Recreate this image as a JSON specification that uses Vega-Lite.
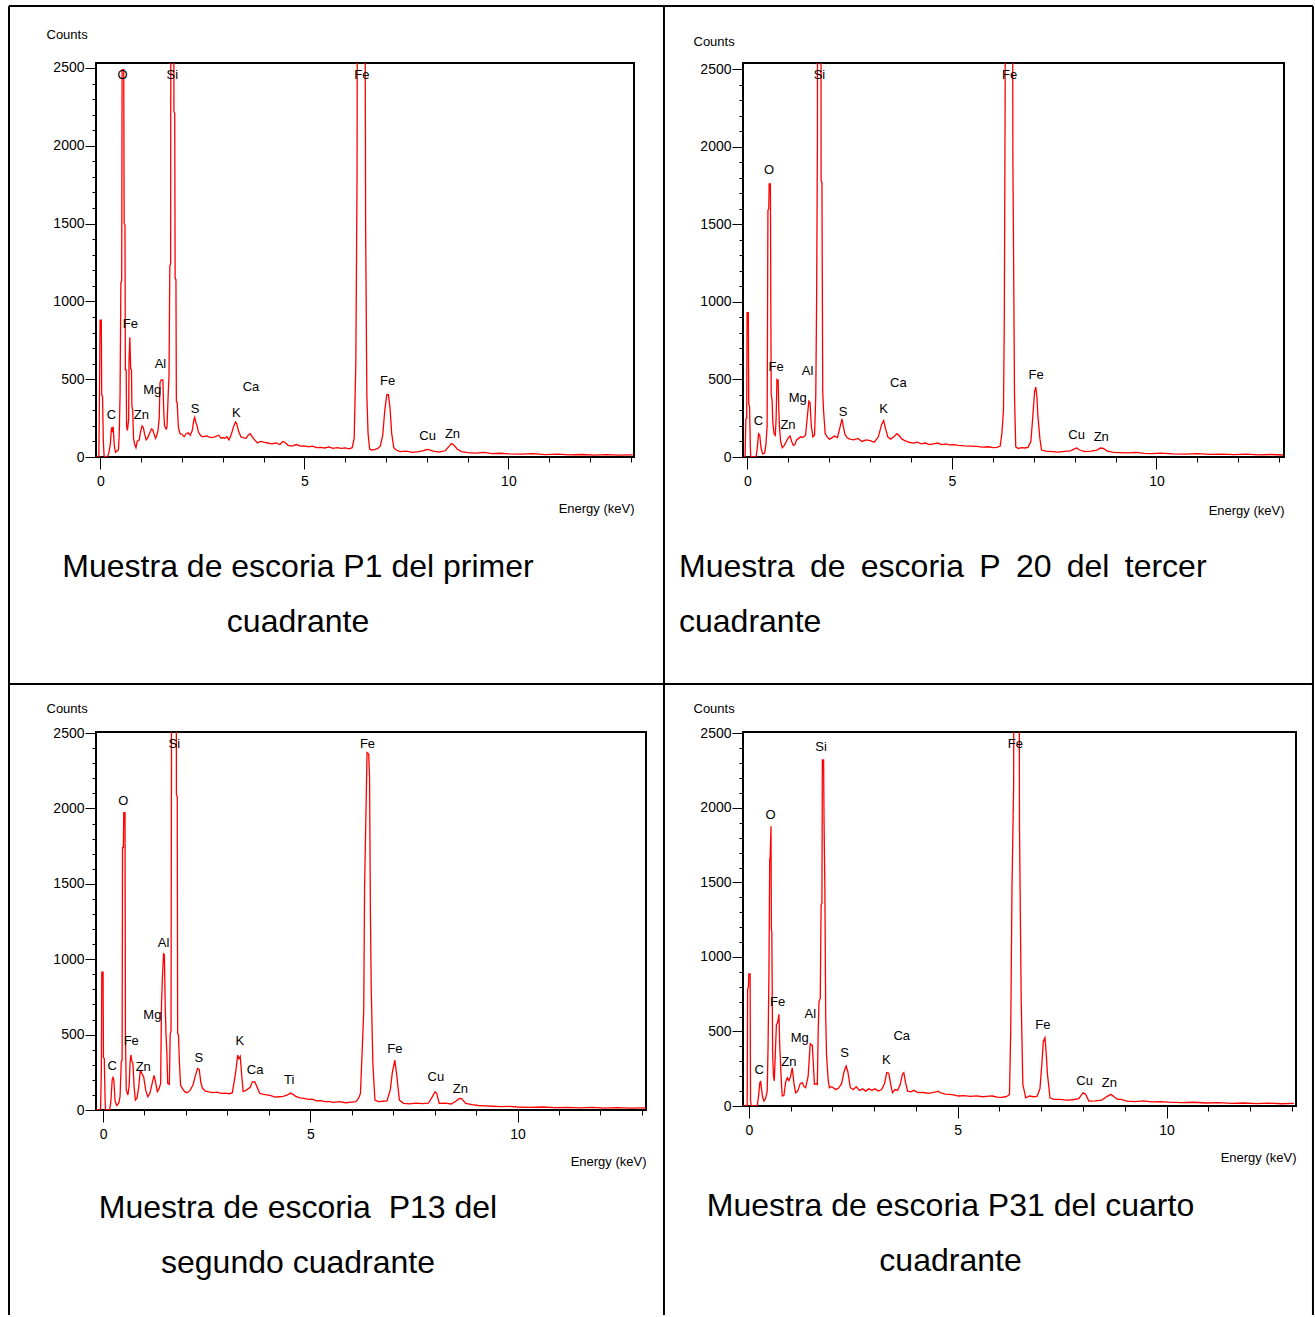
{
"$schema": "https://vega.github.io/schema/vega-lite/v6.json",
"background": "white",
"autosize": {"type": "pad"},
"padding": {"left": 6, "top": 4, "right": 0, "bottom": 0},
"datasets": {
"s1": [
{"e":-0.1,"c":0},{"e":-0.04,"c":0},{"e":-0.03,"c":270},{"e":-0.01,"c":880},{"e":0.02,"c":880},{"e":0.03,"c":400},{"e":0.05,"c":390},{"e":0.07,"c":100},{"e":0.09,"c":0},{"e":0.17,"c":0},{"e":0.2,"c":20},{"e":0.24,"c":80},{"e":0.27,"c":190},{"e":0.29,"c":160},{"e":0.31,"c":195},{"e":0.34,"c":70},{"e":0.37,"c":30},{"e":0.41,"c":40},{"e":0.44,"c":45},{"e":0.46,"c":150},{"e":0.48,"c":400},{"e":0.5,"c":1120},{"e":0.52,"c":1130},{"e":0.53,"c":2490},{"e":0.57,"c":2490},{"e":0.58,"c":1500},{"e":0.6,"c":1490},{"e":0.61,"c":560},{"e":0.63,"c":560},{"e":0.64,"c":200},{"e":0.66,"c":170},{"e":0.69,"c":240},{"e":0.7,"c":620},{"e":0.72,"c":770},{"e":0.74,"c":570},{"e":0.76,"c":560},{"e":0.77,"c":330},{"e":0.79,"c":300},{"e":0.81,"c":120},{"e":0.84,"c":80},{"e":0.87,"c":60},{"e":0.9,"c":100},{"e":0.95,"c":110},{"e":0.98,"c":160},{"e":1.02,"c":200},{"e":1.05,"c":190},{"e":1.08,"c":150},{"e":1.12,"c":110},{"e":1.15,"c":120},{"e":1.2,"c":150},{"e":1.25,"c":180},{"e":1.28,"c":175},{"e":1.31,"c":150},{"e":1.35,"c":120},{"e":1.38,"c":140},{"e":1.41,"c":170},{"e":1.44,"c":250},{"e":1.46,"c":480},{"e":1.49,"c":495},{"e":1.53,"c":495},{"e":1.55,"c":300},{"e":1.57,"c":200},{"e":1.61,"c":180},{"e":1.63,"c":190},{"e":1.66,"c":400},{"e":1.68,"c":520},{"e":1.7,"c":1230},{"e":1.72,"c":1240},{"e":1.73,"c":5000},{"e":1.79,"c":5000},{"e":1.8,"c":2220},{"e":1.82,"c":2210},{"e":1.83,"c":1150},{"e":1.85,"c":1140},{"e":1.86,"c":360},{"e":1.88,"c":350},{"e":1.91,"c":190},{"e":1.95,"c":150},{"e":2.0,"c":145},{"e":2.05,"c":130},{"e":2.1,"c":150},{"e":2.15,"c":155},{"e":2.2,"c":140},{"e":2.25,"c":170},{"e":2.29,"c":240},{"e":2.31,"c":255},{"e":2.34,"c":220},{"e":2.37,"c":200},{"e":2.4,"c":160},{"e":2.45,"c":140},{"e":2.5,"c":130},{"e":2.6,"c":135},{"e":2.7,"c":125},{"e":2.8,"c":130},{"e":2.9,"c":140},{"e":2.95,"c":120},{"e":3.0,"c":125},{"e":3.05,"c":120},{"e":3.1,"c":130},{"e":3.15,"c":110},{"e":3.2,"c":140},{"e":3.27,"c":200},{"e":3.31,"c":225},{"e":3.34,"c":215},{"e":3.38,"c":170},{"e":3.44,"c":130},{"e":3.5,"c":125},{"e":3.57,"c":120},{"e":3.62,"c":140},{"e":3.67,"c":150},{"e":3.72,"c":130},{"e":3.78,"c":110},{"e":3.85,"c":90},{"e":3.92,"c":100},{"e":4.0,"c":95},{"e":4.1,"c":90},{"e":4.2,"c":85},{"e":4.3,"c":90},{"e":4.4,"c":80},{"e":4.47,"c":100},{"e":4.52,"c":95},{"e":4.6,"c":75},{"e":4.7,"c":70},{"e":4.8,"c":80},{"e":4.9,"c":70},{"e":5.0,"c":72},{"e":5.1,"c":65},{"e":5.2,"c":70},{"e":5.3,"c":60},{"e":5.4,"c":62},{"e":5.5,"c":58},{"e":5.6,"c":65},{"e":5.7,"c":55},{"e":5.8,"c":60},{"e":5.9,"c":55},{"e":6.0,"c":58},{"e":6.1,"c":52},{"e":6.17,"c":60},{"e":6.22,"c":120},{"e":6.26,"c":600},{"e":6.29,"c":1800},{"e":6.31,"c":5000},{"e":6.47,"c":5000},{"e":6.5,"c":1500},{"e":6.53,"c":400},{"e":6.56,"c":150},{"e":6.6,"c":50},{"e":6.65,"c":45},{"e":6.72,"c":48},{"e":6.8,"c":55},{"e":6.86,"c":70},{"e":6.92,"c":140},{"e":6.97,"c":300},{"e":7.02,"c":400},{"e":7.06,"c":400},{"e":7.1,"c":310},{"e":7.14,"c":150},{"e":7.19,"c":60},{"e":7.25,"c":45},{"e":7.35,"c":35},{"e":7.5,"c":38},{"e":7.65,"c":30},{"e":7.8,"c":35},{"e":7.9,"c":40},{"e":8.0,"c":48},{"e":8.05,"c":47},{"e":8.15,"c":38},{"e":8.3,"c":32},{"e":8.45,"c":40},{"e":8.55,"c":70},{"e":8.6,"c":86},{"e":8.65,"c":80},{"e":8.75,"c":50},{"e":8.85,"c":35},{"e":9.0,"c":28},{"e":9.2,"c":25},{"e":9.4,"c":30},{"e":9.6,"c":22},{"e":9.8,"c":24},{"e":10.0,"c":20},{"e":10.3,"c":18},{"e":10.6,"c":22},{"e":10.9,"c":15},{"e":11.2,"c":18},{"e":11.5,"c":14},{"e":11.8,"c":16},{"e":12.1,"c":12},{"e":12.4,"c":15},{"e":12.7,"c":12},{"e":13.05,"c":14}
],
"s2": [
{"e":-0.1,"c":0},{"e":-0.06,"c":0},{"e":-0.04,"c":245},{"e":-0.02,"c":250},{"e":-0.01,"c":930},{"e":0.02,"c":930},{"e":0.03,"c":340},{"e":0.05,"c":330},{"e":0.07,"c":60},{"e":0.08,"c":0},{"e":0.21,"c":0},{"e":0.24,"c":60},{"e":0.27,"c":150},{"e":0.3,"c":140},{"e":0.33,"c":60},{"e":0.37,"c":20},{"e":0.42,"c":25},{"e":0.45,"c":80},{"e":0.48,"c":200},{"e":0.5,"c":1590},{"e":0.52,"c":1600},{"e":0.53,"c":1760},{"e":0.56,"c":1760},{"e":0.57,"c":1000},{"e":0.58,"c":400},{"e":0.6,"c":370},{"e":0.62,"c":220},{"e":0.65,"c":150},{"e":0.68,"c":140},{"e":0.7,"c":250},{"e":0.72,"c":500},{"e":0.75,"c":495},{"e":0.76,"c":360},{"e":0.78,"c":200},{"e":0.81,"c":100},{"e":0.85,"c":60},{"e":0.9,"c":75},{"e":0.95,"c":100},{"e":1.0,"c":125},{"e":1.04,"c":135},{"e":1.08,"c":100},{"e":1.12,"c":75},{"e":1.16,"c":80},{"e":1.2,"c":110},{"e":1.25,"c":120},{"e":1.3,"c":130},{"e":1.35,"c":125},{"e":1.42,"c":140},{"e":1.46,"c":250},{"e":1.5,"c":360},{"e":1.53,"c":350},{"e":1.56,"c":200},{"e":1.6,"c":130},{"e":1.64,"c":140},{"e":1.67,"c":400},{"e":1.69,"c":1000},{"e":1.71,"c":2040},{"e":1.72,"c":5000},{"e":1.79,"c":5000},{"e":1.8,"c":1780},{"e":1.82,"c":1770},{"e":1.84,"c":420},{"e":1.86,"c":300},{"e":1.9,"c":150},{"e":1.95,"c":130},{"e":2.0,"c":115},{"e":2.05,"c":120},{"e":2.12,"c":135},{"e":2.2,"c":125},{"e":2.27,"c":200},{"e":2.31,"c":245},{"e":2.34,"c":200},{"e":2.38,"c":150},{"e":2.43,"c":125},{"e":2.5,"c":115},{"e":2.6,"c":110},{"e":2.7,"c":120},{"e":2.8,"c":100},{"e":2.9,"c":110},{"e":3.0,"c":105},{"e":3.1,"c":95},{"e":3.2,"c":130},{"e":3.28,"c":210},{"e":3.33,"c":235},{"e":3.38,"c":180},{"e":3.43,"c":130},{"e":3.5,"c":115},{"e":3.58,"c":130},{"e":3.65,"c":150},{"e":3.7,"c":140},{"e":3.78,"c":115},{"e":3.85,"c":105},{"e":3.95,"c":95},{"e":4.05,"c":90},{"e":4.15,"c":95},{"e":4.25,"c":85},{"e":4.35,"c":90},{"e":4.45,"c":80},{"e":4.55,"c":85},{"e":4.65,"c":90},{"e":4.75,"c":80},{"e":4.85,"c":85},{"e":4.95,"c":78},{"e":5.05,"c":80},{"e":5.15,"c":75},{"e":5.3,"c":72},{"e":5.45,"c":70},{"e":5.6,"c":68},{"e":5.75,"c":64},{"e":5.9,"c":66},{"e":6.0,"c":60},{"e":6.1,"c":62},{"e":6.18,"c":70},{"e":6.22,"c":150},{"e":6.26,"c":300},{"e":6.28,"c":880},{"e":6.3,"c":2280},{"e":6.32,"c":5000},{"e":6.47,"c":5000},{"e":6.49,"c":1910},{"e":6.51,"c":1180},{"e":6.53,"c":390},{"e":6.56,"c":65},{"e":6.62,"c":55},{"e":6.7,"c":60},{"e":6.78,"c":58},{"e":6.86,"c":62},{"e":6.93,"c":100},{"e":6.97,"c":235},{"e":7.02,"c":420},{"e":7.05,"c":450},{"e":7.08,"c":380},{"e":7.1,"c":270},{"e":7.15,"c":120},{"e":7.19,"c":45},{"e":7.3,"c":38},{"e":7.45,"c":35},{"e":7.6,"c":32},{"e":7.75,"c":36},{"e":7.9,"c":40},{"e":8.0,"c":52},{"e":8.05,"c":58},{"e":8.12,"c":45},{"e":8.25,"c":35},{"e":8.4,"c":38},{"e":8.55,"c":45},{"e":8.63,"c":58},{"e":8.7,"c":55},{"e":8.8,"c":38},{"e":8.95,"c":30},{"e":9.1,"c":28},{"e":9.3,"c":26},{"e":9.5,"c":30},{"e":9.7,"c":24},{"e":9.9,"c":22},{"e":10.1,"c":25},{"e":10.4,"c":20},{"e":10.7,"c":18},{"e":11.0,"c":22},{"e":11.3,"c":17},{"e":11.6,"c":19},{"e":11.9,"c":15},{"e":12.2,"c":18},{"e":12.5,"c":14},{"e":12.8,"c":16},{"e":13.1,"c":13}
],
"s3": [
{"e":-0.17,"c":0},{"e":-0.06,"c":0},{"e":-0.04,"c":280},{"e":-0.03,"c":915},{"e":0.0,"c":915},{"e":0.01,"c":350},{"e":0.03,"c":340},{"e":0.05,"c":60},{"e":0.06,"c":0},{"e":0.16,"c":0},{"e":0.19,"c":60},{"e":0.22,"c":200},{"e":0.24,"c":216},{"e":0.26,"c":200},{"e":0.29,"c":60},{"e":0.33,"c":30},{"e":0.38,"c":45},{"e":0.41,"c":88},{"e":0.44,"c":320},{"e":0.46,"c":330},{"e":0.47,"c":1740},{"e":0.49,"c":1740},{"e":0.5,"c":1972},{"e":0.53,"c":1972},{"e":0.54,"c":506},{"e":0.56,"c":133},{"e":0.6,"c":100},{"e":0.63,"c":160},{"e":0.65,"c":300},{"e":0.67,"c":365},{"e":0.7,"c":320},{"e":0.72,"c":310},{"e":0.75,"c":150},{"e":0.78,"c":66},{"e":0.82,"c":80},{"e":0.86,"c":150},{"e":0.9,"c":266},{"e":0.94,"c":240},{"e":0.98,"c":220},{"e":1.03,"c":130},{"e":1.08,"c":88},{"e":1.13,"c":110},{"e":1.18,"c":170},{"e":1.23,"c":230},{"e":1.27,"c":180},{"e":1.31,"c":122},{"e":1.35,"c":140},{"e":1.39,"c":177},{"e":1.41,"c":700},{"e":1.43,"c":860},{"e":1.46,"c":1036},{"e":1.48,"c":1030},{"e":1.5,"c":683},{"e":1.52,"c":500},{"e":1.54,"c":375},{"e":1.56,"c":177},{"e":1.6,"c":170},{"e":1.62,"c":507},{"e":1.64,"c":520},{"e":1.65,"c":2137},{"e":1.66,"c":5000},{"e":1.76,"c":5000},{"e":1.77,"c":2093},{"e":1.79,"c":2080},{"e":1.8,"c":507},{"e":1.82,"c":500},{"e":1.84,"c":330},{"e":1.87,"c":166},{"e":1.92,"c":140},{"e":1.97,"c":122},{"e":2.03,"c":115},{"e":2.1,"c":130},{"e":2.17,"c":166},{"e":2.22,"c":220},{"e":2.28,"c":276},{"e":2.32,"c":270},{"e":2.36,"c":180},{"e":2.4,"c":144},{"e":2.47,"c":125},{"e":2.55,"c":120},{"e":2.65,"c":115},{"e":2.75,"c":118},{"e":2.85,"c":110},{"e":2.95,"c":112},{"e":3.05,"c":108},{"e":3.12,"c":115},{"e":3.2,"c":250},{"e":3.25,"c":364},{"e":3.28,"c":340},{"e":3.31,"c":355},{"e":3.34,"c":250},{"e":3.38,"c":122},{"e":3.45,"c":130},{"e":3.55,"c":150},{"e":3.6,"c":185},{"e":3.66,"c":188},{"e":3.72,"c":150},{"e":3.78,"c":111},{"e":3.85,"c":105},{"e":3.95,"c":100},{"e":4.05,"c":95},{"e":4.15,"c":85},{"e":4.25,"c":88},{"e":4.35,"c":90},{"e":4.45,"c":100},{"e":4.51,"c":111},{"e":4.58,"c":105},{"e":4.65,"c":90},{"e":4.75,"c":80},{"e":4.85,"c":77},{"e":4.95,"c":70},{"e":5.05,"c":72},{"e":5.15,"c":60},{"e":5.25,"c":62},{"e":5.35,"c":55},{"e":5.45,"c":57},{"e":5.55,"c":50},{"e":5.7,"c":55},{"e":5.85,"c":48},{"e":6.0,"c":52},{"e":6.1,"c":55},{"e":6.17,"c":80},{"e":6.21,"c":110},{"e":6.25,"c":374},{"e":6.29,"c":661},{"e":6.31,"c":1476},{"e":6.34,"c":1920},{"e":6.37,"c":2370},{"e":6.41,"c":2360},{"e":6.43,"c":2208},{"e":6.45,"c":1322},{"e":6.47,"c":815},{"e":6.51,"c":308},{"e":6.56,"c":66},{"e":6.65,"c":56},{"e":6.75,"c":58},{"e":6.85,"c":60},{"e":6.93,"c":133},{"e":6.98,"c":250},{"e":7.04,"c":331},{"e":7.09,"c":221},{"e":7.15,"c":66},{"e":7.25,"c":44},{"e":7.4,"c":40},{"e":7.55,"c":46},{"e":7.7,"c":42},{"e":7.85,"c":45},{"e":7.95,"c":90},{"e":8.01,"c":121},{"e":8.05,"c":110},{"e":8.11,"c":44},{"e":8.25,"c":45},{"e":8.4,"c":40},{"e":8.52,"c":60},{"e":8.6,"c":77},{"e":8.65,"c":75},{"e":8.75,"c":44},{"e":8.9,"c":35},{"e":9.05,"c":30},{"e":9.2,"c":28},{"e":9.4,"c":25},{"e":9.6,"c":22},{"e":9.8,"c":24},{"e":10.0,"c":20},{"e":10.3,"c":18},{"e":10.6,"c":20},{"e":10.9,"c":16},{"e":11.2,"c":18},{"e":11.5,"c":14},{"e":11.8,"c":17},{"e":12.1,"c":13},{"e":12.4,"c":16},{"e":12.7,"c":12},{"e":13.1,"c":14}
],
"s4": [
{"e":-0.14,"c":0},{"e":-0.04,"c":0},{"e":-0.03,"c":780},{"e":-0.01,"c":800},{"e":0.0,"c":887},{"e":0.03,"c":887},{"e":0.04,"c":35},{"e":0.06,"c":0},{"e":0.2,"c":0},{"e":0.23,"c":60},{"e":0.26,"c":150},{"e":0.28,"c":169},{"e":0.3,"c":120},{"e":0.33,"c":60},{"e":0.36,"c":33},{"e":0.4,"c":50},{"e":0.44,"c":100},{"e":0.46,"c":400},{"e":0.48,"c":859},{"e":0.5,"c":1660},{"e":0.51,"c":1664},{"e":0.53,"c":1878},{"e":0.54,"c":1180},{"e":0.55,"c":1174},{"e":0.57,"c":344},{"e":0.59,"c":200},{"e":0.61,"c":169},{"e":0.64,"c":400},{"e":0.66,"c":548},{"e":0.69,"c":560},{"e":0.72,"c":615},{"e":0.74,"c":400},{"e":0.75,"c":344},{"e":0.78,"c":150},{"e":0.8,"c":67},{"e":0.84,"c":70},{"e":0.88,"c":160},{"e":0.92,"c":190},{"e":0.96,"c":170},{"e":1.0,"c":200},{"e":1.04,"c":257},{"e":1.08,"c":150},{"e":1.12,"c":89},{"e":1.17,"c":100},{"e":1.23,"c":150},{"e":1.28,"c":157},{"e":1.32,"c":130},{"e":1.36,"c":123},{"e":1.42,"c":200},{"e":1.47,"c":418},{"e":1.5,"c":410},{"e":1.52,"c":407},{"e":1.55,"c":250},{"e":1.57,"c":145},{"e":1.62,"c":150},{"e":1.64,"c":145},{"e":1.66,"c":500},{"e":1.68,"c":703},{"e":1.71,"c":720},{"e":1.73,"c":1351},{"e":1.75,"c":1360},{"e":1.76,"c":2322},{"e":1.79,"c":2322},{"e":1.8,"c":1920},{"e":1.82,"c":1462},{"e":1.84,"c":600},{"e":1.86,"c":344},{"e":1.9,"c":170},{"e":1.93,"c":123},{"e":1.98,"c":130},{"e":2.02,"c":123},{"e":2.08,"c":110},{"e":2.15,"c":120},{"e":2.22,"c":150},{"e":2.28,"c":230},{"e":2.33,"c":268},{"e":2.37,"c":230},{"e":2.43,"c":123},{"e":2.5,"c":110},{"e":2.57,"c":130},{"e":2.65,"c":105},{"e":2.72,"c":115},{"e":2.8,"c":100},{"e":2.87,"c":115},{"e":2.95,"c":105},{"e":3.02,"c":115},{"e":3.1,"c":100},{"e":3.18,"c":110},{"e":3.25,"c":150},{"e":3.3,"c":224},{"e":3.35,"c":220},{"e":3.4,"c":140},{"e":3.44,"c":89},{"e":3.5,"c":110},{"e":3.56,"c":105},{"e":3.62,"c":140},{"e":3.68,"c":215},{"e":3.71,"c":224},{"e":3.75,"c":160},{"e":3.8,"c":100},{"e":3.88,"c":95},{"e":3.95,"c":105},{"e":4.05,"c":90},{"e":4.15,"c":92},{"e":4.21,"c":89},{"e":4.3,"c":85},{"e":4.4,"c":90},{"e":4.48,"c":95},{"e":4.53,"c":100},{"e":4.6,"c":88},{"e":4.7,"c":80},{"e":4.8,"c":78},{"e":4.9,"c":75},{"e":5.02,"c":67},{"e":5.15,"c":70},{"e":5.3,"c":65},{"e":5.45,"c":68},{"e":5.6,"c":62},{"e":5.75,"c":66},{"e":5.83,"c":67},{"e":5.95,"c":60},{"e":6.05,"c":58},{"e":6.15,"c":62},{"e":6.21,"c":70},{"e":6.24,"c":78},{"e":6.27,"c":504},{"e":6.3,"c":1462},{"e":6.34,"c":2155},{"e":6.36,"c":5000},{"e":6.46,"c":5000},{"e":6.48,"c":1865},{"e":6.52,"c":720},{"e":6.56,"c":145},{"e":6.63,"c":55},{"e":6.72,"c":67},{"e":6.82,"c":62},{"e":6.9,"c":65},{"e":6.97,"c":116},{"e":7.02,"c":300},{"e":7.05,"c":435},{"e":7.09,"c":458},{"e":7.12,"c":350},{"e":7.15,"c":212},{"e":7.21,"c":55},{"e":7.3,"c":44},{"e":7.45,"c":45},{"e":7.6,"c":40},{"e":7.75,"c":42},{"e":7.9,"c":50},{"e":8.0,"c":89},{"e":8.06,"c":80},{"e":8.14,"c":33},{"e":8.3,"c":35},{"e":8.45,"c":40},{"e":8.58,"c":65},{"e":8.67,"c":78},{"e":8.75,"c":60},{"e":8.83,"c":45},{"e":8.91,"c":44},{"e":9.05,"c":33},{"e":9.25,"c":30},{"e":9.45,"c":34},{"e":9.65,"c":28},{"e":9.85,"c":30},{"e":10.05,"c":26},{"e":10.35,"c":22},{"e":10.65,"c":25},{"e":10.95,"c":20},{"e":11.25,"c":22},{"e":11.55,"c":18},{"e":11.85,"c":20},{"e":12.15,"c":16},{"e":12.45,"c":19},{"e":12.75,"c":15},{"e":13.05,"c":17}
],
"l1": [
{"e":0.54,"c":2455,"t":"O"},{"e":1.76,"c":2455,"t":"Si"},{"e":6.41,"c":2455,"t":"Fe"},{"e":0.73,"c":855,"t":"Fe"},{"e":1.47,"c":598,"t":"Al"},{"e":1.27,"c":431,"t":"Mg"},{"e":3.69,"c":450,"t":"Ca"},{"e":0.27,"c":270,"t":"C"},{"e":1.0,"c":270,"t":"Zn"},{"e":2.32,"c":308,"t":"S"},{"e":3.33,"c":283,"t":"K"},{"e":7.04,"c":488,"t":"Fe"},{"e":8.02,"c":135,"t":"Cu"},{"e":8.63,"c":148,"t":"Zn"}
],
"l2": [
{"e":1.76,"c":2461,"t":"Si"},{"e":6.41,"c":2461,"t":"Fe"},{"e":0.53,"c":1849,"t":"O"},{"e":0.7,"c":580,"t":"Fe"},{"e":1.47,"c":554,"t":"Al"},{"e":1.23,"c":380,"t":"Mg"},{"e":3.69,"c":477,"t":"Ca"},{"e":0.27,"c":232,"t":"C"},{"e":0.99,"c":206,"t":"Zn"},{"e":2.34,"c":290,"t":"S"},{"e":3.33,"c":309,"t":"K"},{"e":7.06,"c":528,"t":"Fe"},{"e":8.05,"c":142,"t":"Cu"},{"e":8.65,"c":129,"t":"Zn"}
],
"l3": [
{"e":1.72,"c":2426,"t":"Si"},{"e":6.38,"c":2426,"t":"Fe"},{"e":0.49,"c":2049,"t":"O"},{"e":1.46,"c":1110,"t":"Al"},{"e":1.19,"c":628,"t":"Mg"},{"e":0.68,"c":456,"t":"Fe"},{"e":0.97,"c":284,"t":"Zn"},{"e":0.22,"c":291,"t":"C"},{"e":2.31,"c":344,"t":"S"},{"e":3.3,"c":456,"t":"K"},{"e":3.67,"c":264,"t":"Ca"},{"e":4.49,"c":198,"t":"Ti"},{"e":7.04,"c":403,"t":"Fe"},{"e":8.03,"c":218,"t":"Cu"},{"e":8.62,"c":139,"t":"Zn"}
],
"l4": [
{"e":1.73,"c":2409,"t":"Si"},{"e":6.38,"c":2428,"t":"Fe"},{"e":0.52,"c":1952,"t":"O"},{"e":0.69,"c":699,"t":"Fe"},{"e":1.47,"c":619,"t":"Al"},{"e":1.22,"c":457,"t":"Mg"},{"e":3.66,"c":471,"t":"Ca"},{"e":0.25,"c":243,"t":"C"},{"e":0.96,"c":297,"t":"Zn"},{"e":2.29,"c":357,"t":"S"},{"e":3.29,"c":310,"t":"K"},{"e":7.04,"c":545,"t":"Fe"},{"e":8.04,"c":169,"t":"Cu"},{"e":8.63,"c":156,"t":"Zn"}
]
},
"columns": 2,
"align": "none",
"bounds": "flush",
"spacing": {"row": 275, "column": 97},
"concat": [
{
 "width": 538, "height": 394,
 "title": {"text": ["Muestra de escoria P1 del primer", "cuadrante"], "anchor": "middle", "dx": -67, "offset": 37, "dy": -801},
 "layer": [
  {"data": {"name": "s1"}, "mark": {"type": "line", "color": "#ff0000", "strokeWidth": 1.3, "clip": true},
   "encoding": {
    "x": {"field": "e", "type": "quantitative", "scale": {"domain": [-0.11, 13.08], "nice": false, "zero": false},
      "axis": {"title": "Energy (keV)", "format": "d", "values": [0,1,2,3,4,5,6,7,8,9,10,11,12,13], "tickCount": 40, "labelExpr": "datum.value % 5 === 0 ? datum.label : ''", "tickSize": {"condition": {"test": "datum.value % 5 === 0", "value": 12}, "value": 5}, "labelPadding": 5, "labelFlush": false, "labelOverlap": false, "titleX": 538, "titleY": 51, "titleAlign": "right", "titleBaseline": "middle"}},
    "y": {"field": "c", "type": "quantitative", "scale": {"domain": [0, 2532], "nice": false},
      "axis": {"title": "Counts", "format": "d", "values": [0,100,200,300,400,500,600,700,800,900,1000,1100,1200,1300,1400,1500,1600,1700,1800,1900,2000,2100,2200,2300,2400,2500], "tickCount": 40, "labelExpr": "datum.value % 500 === 0 ? datum.label : ''", "tickSize": {"condition": {"test": "datum.value % 500 === 0", "value": 11}, "value": 4}, "labelPadding": 1, "labelOverlap": false, "titleAngle": 0, "titleAlign": "left", "titleBaseline": "middle", "titleX": -50, "titleY": -29}}
   }},
  {"data": {"name": "l1"}, "mark": {"type": "text"},
   "encoding": {"x": {"field": "e", "type": "quantitative"}, "y": {"field": "c", "type": "quantitative"}, "text": {"field": "t"}}},
  {"data": {"values": [{}]}, "mark": {"type": "rule", "color": "black", "strokeWidth": 2},
   "encoding": {"x": {"datum": -2.243, "type": "quantitative"}, "y": {"datum": 2898.3, "type": "quantitative"}, "y2": {"datum": -5513.8}}},
  {"data": {"values": [{}]}, "mark": {"type": "rule", "color": "black", "strokeWidth": 2},
   "encoding": {"x": {"datum": 13.815, "type": "quantitative"}, "y": {"datum": 2898.3, "type": "quantitative"}, "y2": {"datum": -5513.8}}},
  {"data": {"values": [{}]}, "mark": {"type": "rule", "color": "black", "strokeWidth": 2},
   "encoding": {"x": {"datum": 29.726, "type": "quantitative"}, "y": {"datum": 2898.3, "type": "quantitative"}, "y2": {"datum": -5513.8}}},
  {"data": {"values": [{}]}, "mark": {"type": "rule", "color": "black", "strokeWidth": 2},
   "encoding": {"y": {"datum": 2898.3, "type": "quantitative"}, "x": {"datum": -2.243, "type": "quantitative"}, "x2": {"datum": 29.726}}},
  {"data": {"values": [{}]}, "mark": {"type": "rule", "color": "black", "strokeWidth": 2},
   "encoding": {"y": {"datum": -1458.8, "type": "quantitative"}, "x": {"datum": -2.243, "type": "quantitative"}, "x2": {"datum": 29.726}}}
 ]
},
{
 "width": 541, "height": 394,
 "title": {"text": ["Muestra\u2009 de\u2009 escoria\u2009 P\u2009 20\u2009 del\u2009 tercer", "cuadrante"], "anchor": "start", "dx": -64, "offset": 35},
 "layer": [
  {"data": {"name": "s2"}, "mark": {"type": "line", "color": "#ff0000", "strokeWidth": 1.3, "clip": true},
   "encoding": {
    "x": {"field": "e", "type": "quantitative", "scale": {"domain": [-0.11, 13.12], "nice": false, "zero": false},
      "axis": {"title": "Energy (keV)", "format": "d", "values": [0,1,2,3,4,5,6,7,8,9,10,11,12,13], "tickCount": 40, "labelExpr": "datum.value % 5 === 0 ? datum.label : ''", "tickSize": {"condition": {"test": "datum.value % 5 === 0", "value": 12}, "value": 5}, "labelPadding": 5, "labelFlush": false, "labelOverlap": false, "titleX": 541, "titleY": 53, "titleAlign": "right", "titleBaseline": "middle"}},
    "y": {"field": "c", "type": "quantitative", "scale": {"domain": [0, 2539], "nice": false},
      "axis": {"title": "Counts", "format": "d", "values": [0,100,200,300,400,500,600,700,800,900,1000,1100,1200,1300,1400,1500,1600,1700,1800,1900,2000,2100,2200,2300,2400,2500], "tickCount": 40, "labelExpr": "datum.value % 500 === 0 ? datum.label : ''", "tickSize": {"condition": {"test": "datum.value % 500 === 0", "value": 11}, "value": 4}, "labelPadding": 1, "labelOverlap": false, "titleAngle": 0, "titleAlign": "left", "titleBaseline": "middle", "titleX": -50, "titleY": -22}}
   }},
  {"data": {"name": "l2"}, "mark": {"type": "text"},
   "encoding": {"x": {"field": "e", "type": "quantitative"}, "y": {"field": "c", "type": "quantitative"}, "text": {"field": "t"}}}
 ]
},
{
 "width": 550, "height": 378,
 "title": {"text": ["Muestra de escoria \u00a0P13 del", "segundo cuadrante"], "anchor": "middle", "dx": -73, "offset": 25},
 "layer": [
  {"data": {"name": "s3"}, "mark": {"type": "line", "color": "#ff0000", "strokeWidth": 1.3, "clip": true},
   "encoding": {
    "x": {"field": "e", "type": "quantitative", "scale": {"domain": [-0.17, 13.1], "nice": false, "zero": false},
      "axis": {"title": "Energy (keV)", "format": "d", "values": [0,1,2,3,4,5,6,7,8,9,10,11,12,13], "tickCount": 40, "labelExpr": "datum.value % 5 === 0 ? datum.label : ''", "tickSize": {"condition": {"test": "datum.value % 5 === 0", "value": 12}, "value": 5}, "labelPadding": 5, "labelFlush": false, "labelOverlap": false, "titleX": 550, "titleY": 51, "titleAlign": "right", "titleBaseline": "middle"}},
    "y": {"field": "c", "type": "quantitative", "scale": {"domain": [0, 2507], "nice": false},
      "axis": {"title": "Counts", "format": "d", "values": [0,100,200,300,400,500,600,700,800,900,1000,1100,1200,1300,1400,1500,1600,1700,1800,1900,2000,2100,2200,2300,2400,2500], "tickCount": 40, "labelExpr": "datum.value % 500 === 0 ? datum.label : ''", "tickSize": {"condition": {"test": "datum.value % 500 === 0", "value": 11}, "value": 4}, "labelPadding": 1, "labelOverlap": false, "titleAngle": 0, "titleAlign": "left", "titleBaseline": "middle", "titleX": -50, "titleY": -24}}
   }},
  {"data": {"name": "l3"}, "mark": {"type": "text"},
   "encoding": {"x": {"field": "e", "type": "quantitative"}, "y": {"field": "c", "type": "quantitative"}, "text": {"field": "t"}}}
 ]
},
{
 "width": 553, "height": 374,
 "title": {"text": ["Muestra de escoria P31 del cuarto", "cuadrante"], "anchor": "middle", "dx": -69, "offset": 27},
 "layer": [
  {"data": {"name": "s4"}, "mark": {"type": "line", "color": "#ff0000", "strokeWidth": 1.3, "clip": true},
   "encoding": {
    "x": {"field": "e", "type": "quantitative", "scale": {"domain": [-0.14, 13.1], "nice": false, "zero": false},
      "axis": {"title": "Energy (keV)", "format": "d", "values": [0,1,2,3,4,5,6,7,8,9,10,11,12,13], "tickCount": 40, "labelExpr": "datum.value % 5 === 0 ? datum.label : ''", "tickSize": {"condition": {"test": "datum.value % 5 === 0", "value": 12}, "value": 5}, "labelPadding": 5, "labelFlush": false, "labelOverlap": false, "titleX": 553, "titleY": 51, "titleAlign": "right", "titleBaseline": "middle"}},
    "y": {"field": "c", "type": "quantitative", "scale": {"domain": [0, 2510], "nice": false},
      "axis": {"title": "Counts", "format": "d", "values": [0,100,200,300,400,500,600,700,800,900,1000,1100,1200,1300,1400,1500,1600,1700,1800,1900,2000,2100,2200,2300,2400,2500], "tickCount": 40, "labelExpr": "datum.value % 500 === 0 ? datum.label : ''", "tickSize": {"condition": {"test": "datum.value % 500 === 0", "value": 11}, "value": 4}, "labelPadding": 1, "labelOverlap": false, "titleAngle": 0, "titleAlign": "left", "titleBaseline": "middle", "titleX": -50, "titleY": -24}}
   }},
  {"data": {"name": "l4"}, "mark": {"type": "text"},
   "encoding": {"x": {"field": "e", "type": "quantitative"}, "y": {"field": "c", "type": "quantitative"}, "text": {"field": "t"}}}
 ]
}
],
"config": {
 "view": {"stroke": "black", "strokeWidth": 2},
 "axis": {"grid": false, "domain": false, "tickColor": "black", "tickWidth": 1, "labelColor": "black", "titleColor": "black", "labelFont": "Liberation Sans", "titleFont": "Liberation Sans", "titleFontWeight": "normal", "labelFontSize": 14, "titleFontSize": 13},
 "title": {"font": "Liberation Sans", "fontSize": 32, "fontWeight": "normal", "color": "black", "lineHeight": 55, "orient": "bottom", "frame": "group"},
 "text": {"font": "Liberation Sans", "fontSize": 13, "color": "black", "align": "center", "baseline": "middle"}
}
}
